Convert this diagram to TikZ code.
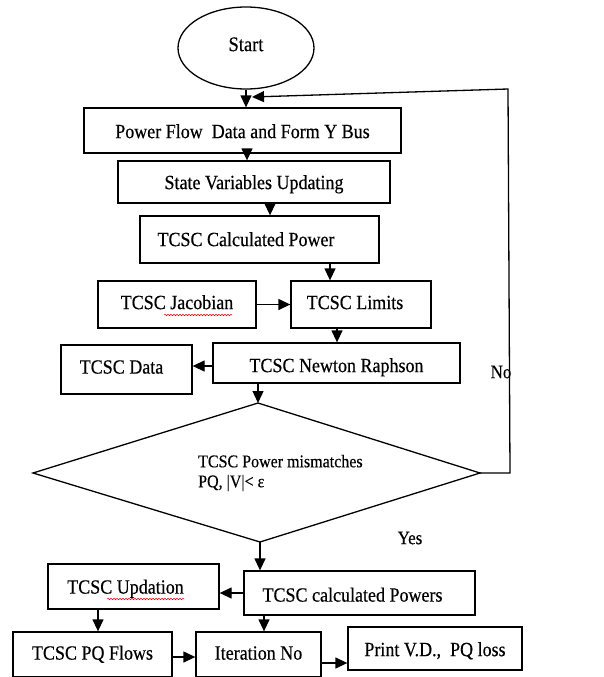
\documentclass[tikz,border=0pt]{standalone}
\usepackage{fontspec}
\setmainfont{Liberation Serif}[FakeBold=0.4]
\usetikzlibrary{arrows.meta,shapes.geometric,decorations.pathmorphing}
\newcommand{\tallt}[1]{\scalebox{1}[1.12]{#1}}
\newcommand{\tx}[2][0]{\raisebox{\dimexpr-#1pt-6.6pt\relax}[0pt][0pt]{\scalebox{1}[1.12]{#2}}}
\begin{document}
\begin{tikzpicture}[x=1pt,y=-1pt,
  box/.style={draw,line width=1.3pt,inner sep=0pt,font=\fontsize{18}{20}\selectfont},
  arr/.style={line width=1.3pt,-{Triangle[length=12pt,width=11pt]}},
  lbl/.style={font=\fontsize{17}{20}\selectfont,inner sep=0pt},
  spell/.style={red,line width=0.5pt,decorate,decoration={snake,amplitude=0.8pt,segment length=3pt}}]
\useasboundingbox[fill=white] (0,0) rectangle (603,677);

\node[draw,ellipse,line width=1.3pt,inner sep=0pt,minimum width=136pt,minimum height=82pt,font=\fontsize{18.5}{20}\selectfont] (start) at (246,48) {\tx[-3.5]{Start}};

\node[box,minimum width=317pt,minimum height=45pt] (b1) at (242.5,130.5) {\tx[1]{Power Flow\ \ Data and Form Y Bus}};
\node[box,minimum width=272pt,minimum height=42pt] (b2) at (254,182) {\tx[0.5]{State Variables Updating}};
\node[box,minimum width=239pt,minimum height=47pt] (b3) at (259.5,239.5) {\hspace*{-27pt}\tx[0]{TCSC Calculated Power}};
\node[box,minimum width=158pt,minimum height=47pt] (jac) at (177,304.5) {\tx[-2]{TCSC Jacobian}};
\node[box,minimum width=140pt,minimum height=47pt] (lim) at (361,304.5) {\tx[-2]{TCSC Limits}\hspace*{12pt}};
\node[box,minimum width=247pt,minimum height=40pt] (nr) at (336.5,363) {\tx[2.5]{TCSC Newton Raphson}};
\node[box,minimum width=131pt,minimum height=49pt] (data) at (126.5,369.5) {\tx[-2.5]{TCSC Data}\hspace*{10pt}};

\coordinate (dt) at (258,403);
\coordinate (dl) at (33,473);
\coordinate (dr) at (480,473);
\coordinate (db) at (260,542);
\draw[line width=1.3pt] (dt) -- (dr) -- (db) -- (dl) -- cycle;
\node[anchor=west,align=left,inner sep=0pt,font=\fontsize{16}{20}\selectfont] (dtext) at (198,473) {\tallt{TCSC Power mismatches}\\\tallt{PQ, |V|< ε}};

\node[box,minimum width=231pt,minimum height=44pt] (calc) at (359.5,593) {\hspace*{-14pt}\tx[2]{TCSC calculated Powers}};
\node[box,minimum width=171pt,minimum height=45pt] (upd) at (133.5,586.5) {\tx[0.5]{TCSC Updation}\hspace*{16pt}};
\node[box,minimum width=159pt,minimum height=45pt] (pq) at (92.5,654.5) {\tx[-1.5]{TCSC PQ Flows}};
\node[box,minimum width=125pt,minimum height=45pt] (it) at (258.5,654.5) {\tx[-1.5]{Iteration No}};
\node[box,minimum width=174pt,minimum height=43pt] (pr) at (435,648.5) {\tx[1]{Print V.D.,\ \ PQ loss}};

\node[lbl] (yes) at (410,538) {\tallt{Yes}};
\node[lbl] (no) at (501,372) {\tallt{No}};

\coordinate (c1) at (510,473);
\coordinate (c2) at (508,89);
\coordinate (c3) at (252,97);

\draw[arr] (start.south) -- (start.south |- b1.north);
\draw[arr] ([xshift=4.5pt]b1.south) -- ([xshift=4.5pt]b1.south |- b2.north);
\draw[arr] ([xshift=16pt]b2.south) -- ([xshift=16pt]b2.south |- b3.north);
\draw[arr] ([xshift=70.5pt]b3.south) -- ([xshift=70.5pt]b3.south |- lim.north);
\draw[arr] (jac.east) -- (lim.west);
\draw[arr] ([xshift=-24pt]lim.south) -- ([xshift=-24pt]lim.south |- nr.north);
\draw[arr] ([yshift=-3pt]nr.west) -- ([yshift=-3pt]nr.west -| data.east);
\draw[arr] (nr.south -| dt) -- (dt);
\draw[arr] (dr) -- (c1) -- (c2) -- (c3);
\draw[arr] (db) -- (db |- calc.north);
\draw[arr] (calc.west) -- (calc.west -| upd.east);
\draw[arr] ([xshift=-35.5pt]upd.south) -- ([xshift=-35.5pt]upd.south |- pq.north);
\draw[arr] ([xshift=-95.5pt]calc.south) -- ([xshift=-95.5pt]calc.south |- it.north);
\draw[arr] ([yshift=-2.5pt]pq.east) -- ([yshift=-2.5pt]pq.east -| it.west);
\draw[arr] ([yshift=-8.5pt]it.east) -- ([yshift=-8.5pt]it.east -| pr.west);

\draw[spell] (164,315) -- (232,315);
\draw[spell] (107,599) -- (184,599);
\end{tikzpicture}
\end{document}
